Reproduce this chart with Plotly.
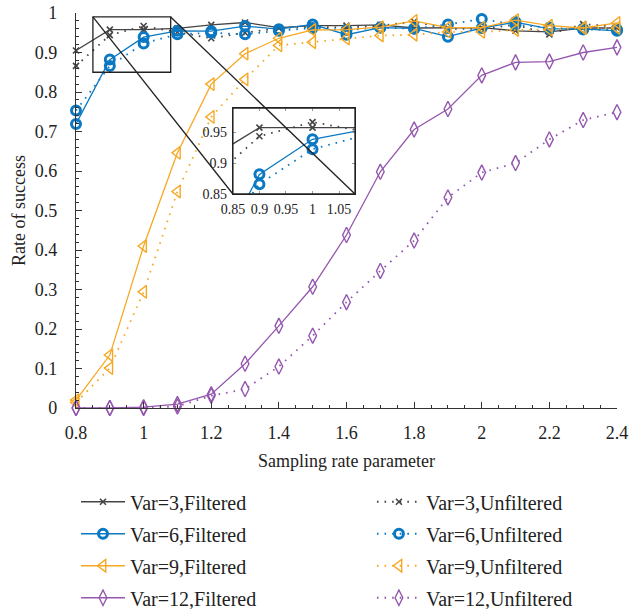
import plotly.graph_objects as go

x = [0.8, 0.9, 1.0, 1.1, 1.2, 1.3, 1.4, 1.5, 1.6, 1.7, 1.8, 1.9, 2.0, 2.1, 2.2, 2.3, 2.4]

var3_filtered = [0.905, 0.958, 0.958, 0.961, 0.970, 0.976, 0.963, 0.968, 0.968, 0.970, 0.962, 0.962, 0.963, 0.955, 0.952, 0.962, 0.962]
var3_unfiltered = [0.866, 0.944, 0.967, 0.952, 0.936, 0.950, 0.962, 0.965, 0.963, 0.968, 0.978, 0.960, 0.960, 0.970, 0.946, 0.972, 0.965]
var6_filtered = [0.719, 0.882, 0.939, 0.955, 0.954, 0.967, 0.959, 0.971, 0.945, 0.963, 0.961, 0.940, 0.962, 0.977, 0.960, 0.960, 0.955]
var6_unfiltered = [0.753, 0.866, 0.923, 0.946, 0.950, 0.946, 0.955, 0.962, 0.957, 0.963, 0.960, 0.971, 0.985, 0.970, 0.963, 0.958, 0.958]
var9_filtered = [0.020, 0.134, 0.410, 0.646, 0.820, 0.897, 0.936, 0.957, 0.958, 0.964, 0.980, 0.963, 0.963, 0.982, 0.968, 0.962, 0.975]
var9_unfiltered = [0.014, 0.101, 0.294, 0.548, 0.737, 0.832, 0.918, 0.926, 0.935, 0.943, 0.945, 0.952, 0.952, 0.957, 0.958, 0.962, 0.962]
var12_filtered = [0.0, 0.0, 0.002, 0.010, 0.035, 0.112, 0.208, 0.307, 0.438, 0.598, 0.705, 0.757, 0.842, 0.875, 0.877, 0.900, 0.913]
var12_unfiltered = [0.0, 0.0, 0.0, 0.004, 0.031, 0.048, 0.105, 0.183, 0.268, 0.347, 0.424, 0.533, 0.596, 0.620, 0.680, 0.729, 0.749]

x_ticks = [0.8, 1.0, 1.2, 1.4, 1.6, 1.8, 2.0, 2.2, 2.4]
x_tick_labels = ["0.8", "1", "1.2", "1.4", "1.6", "1.8", "2", "2.2", "2.4"]
y_ticks = [0, 0.1, 0.2, 0.3, 0.4, 0.5, 0.6, 0.7, 0.8, 0.9, 1.0]
y_tick_labels = ["0", "0.1", "0.2", "0.3", "0.4", "0.5", "0.6", "0.7", "0.8", "0.9", "1"]
inset_x_ticks = [0.85, 0.9, 0.95, 1.0, 1.05]
inset_x_labels = ["0.85", "0.9", "0.95", "1", "1.05"]
inset_y_ticks = [0.85, 0.9, 0.95]
inset_y_labels = ["0.85", "0.9", "0.95"]

X_RANGE = [0.8, 2.4]
Y_RANGE = [0.0, 1.0]
INSET_X = [0.85, 1.08]
INSET_Y = [0.85, 0.99]
INSET_DOM_X = [0.290, 0.5157]
INSET_DOM_Y = [0.5418, 0.7595]

FONT = "Liberation Serif, Times New Roman, serif"
C3, C6, C9, C12 = "#454545", "#0A78C2", "#F7A823", "#9457AE"
DOT = "1.6px,6px"

series = [
    ("Var=3,Filtered", var3_filtered, C3, "solid", "x-thin-open", 6, 1.6, "legend"),
    ("Var=3,Unfiltered", var3_unfiltered, C3, DOT, "x-thin-open", 6, 1.6, "legend2"),
    ("Var=6,Filtered", var6_filtered, C6, "solid", "circle-open", 9, 3, "legend"),
    ("Var=6,Unfiltered", var6_unfiltered, C6, DOT, "circle-open", 9, 3, "legend2"),
    ("Var=9,Filtered", var9_filtered, C9, "solid", "triangle-left-open", 11, 1.4, "legend"),
    ("Var=9,Unfiltered", var9_unfiltered, C9, DOT, "triangle-left-open", 11, 1.4, "legend2"),
    ("Var=12,Filtered", var12_filtered, C12, "solid", "diamond-tall-open", 11, 1.4, "legend"),
    ("Var=12,Unfiltered", var12_unfiltered, C12, DOT, "diamond-tall-open", 11, 1.4, "legend2"),
]

fig = go.Figure()
for name, vals, col, dash, sym, msize, mlw, leg in series:
    fig.add_trace(go.Scatter(
        x=x, y=vals, name=name, mode="lines+markers",
        line=dict(color=col, width=1.3 if dash == "solid" else 1.8, dash=dash),
        marker=dict(symbol=sym, size=msize, color=col, line=dict(color=col, width=mlw)),
        legend=leg, legendgroup=name, xaxis="x", yaxis="y", cliponaxis=False,
    ))
for name, vals, col, dash, sym, msize, mlw, leg in series:
    fig.add_trace(go.Scatter(
        x=x, y=vals, name=name, mode="lines+markers",
        line=dict(color=col, width=1.3 if dash == "solid" else 1.8, dash=dash),
        marker=dict(symbol=sym, size=msize, color=col, line=dict(color=col, width=mlw)),
        showlegend=False, xaxis="x2", yaxis="y2", cliponaxis=True,
    ))

# paper coordinates of the zoom rectangle (main axis domain is [0,1])
def px(v):
    return (v - X_RANGE[0]) / (X_RANGE[1] - X_RANGE[0])

def py(v):
    return (v - Y_RANGE[0]) / (Y_RANGE[1] - Y_RANGE[0])

shapes = [
    dict(type="rect", xref="x", yref="y", x0=INSET_X[0], x1=INSET_X[1], y0=INSET_Y[0], y1=INSET_Y[1],
         line=dict(color="#222", width=1.3), layer="above"),
    dict(type="rect", xref="paper", yref="paper", x0=INSET_DOM_X[0], x1=INSET_DOM_X[1],
         y0=INSET_DOM_Y[0], y1=INSET_DOM_Y[1], line=dict(color="#222", width=1.3),
         fillcolor="rgba(0,0,0,0)", layer="above"),
    dict(type="line", xref="paper", yref="paper", x0=px(INSET_X[0]), y0=py(INSET_Y[1]),
         x1=INSET_DOM_X[0], y1=INSET_DOM_Y[0], line=dict(color="#222", width=1.3), layer="above"),
    dict(type="line", xref="paper", yref="paper", x0=px(INSET_X[1]), y0=py(INSET_Y[1]),
         x1=INSET_DOM_X[1], y1=INSET_DOM_Y[0], line=dict(color="#222", width=1.3), layer="above"),
]

fig.update_layout(
    width=629, height=609,
    margin=dict(l=76, r=12, t=13, b=201, autoexpand=False),
    paper_bgcolor="white", plot_bgcolor="white",
    font=dict(family=FONT, size=18, color="#222"),
    shapes=shapes,
    xaxis=dict(
        range=X_RANGE, domain=[0, 1], tickvals=x_ticks, ticktext=x_tick_labels, automargin=False,
        ticks="inside", ticklen=6, tickcolor="#333", showline=True, linecolor="#333", linewidth=1.3,
        showgrid=False, zeroline=False, ticklabelstandoff=8,
        minor=dict(dtick=0.05, tick0=0.8, ticks="inside", ticklen=3, tickcolor="#333", showgrid=False),
        title=dict(text="Sampling rate parameter", standoff=12, font=dict(size=18)),
        tickfont=dict(size=18),
    ),
    yaxis=dict(
        range=Y_RANGE, domain=[0, 1], tickvals=y_ticks, ticktext=y_tick_labels, automargin=False,
        ticks="inside", ticklen=6, tickcolor="#333", showline=True, linecolor="#333", linewidth=1.3,
        showgrid=False, zeroline=False, ticklabelstandoff=14,
        minor=dict(dtick=0.02, tick0=0, ticks="inside", ticklen=3, tickcolor="#333", showgrid=False),
        title=dict(text="Rate of success", standoff=4, font=dict(size=18)),
        tickfont=dict(size=18),
    ),
    xaxis2=dict(
        range=INSET_X, domain=INSET_DOM_X, anchor="y2", tickvals=inset_x_ticks, ticktext=inset_x_labels,
        ticks="inside", ticklen=3, tickcolor="#999", showline=True, mirror="ticks", linecolor="#222",
        linewidth=1.3, showgrid=False, zeroline=False, tickfont=dict(size=14), ticklabelstandoff=2,
        automargin=False,
    ),
    yaxis2=dict(
        range=INSET_Y, domain=INSET_DOM_Y, anchor="x2", tickvals=inset_y_ticks, ticktext=inset_y_labels,
        ticks="inside", ticklen=3, tickcolor="#999", showline=True, mirror="ticks", linecolor="#222",
        linewidth=1.3, showgrid=False, zeroline=False, tickfont=dict(size=14), ticklabelstandoff=2,
        automargin=False,
    ),
    legend=dict(x=0.0, y=-0.188, xanchor="left", yanchor="top", orientation="v",
                font=dict(size=20), tracegroupgap=3, itemwidth=44, bgcolor="rgba(0,0,0,0)"),
    legend2=dict(x=0.547, y=-0.188, xanchor="left", yanchor="top", orientation="v",
                 font=dict(size=20), tracegroupgap=3, itemwidth=44, bgcolor="rgba(0,0,0,0)"),
)

# remove the default 8px page margin so the figure fills the window exactly
fig.write_html(
    "out.html",
    config={"displayModeBar": False},
    post_script="document.body.style.margin='0';document.body.style.overflow='hidden';",
)
